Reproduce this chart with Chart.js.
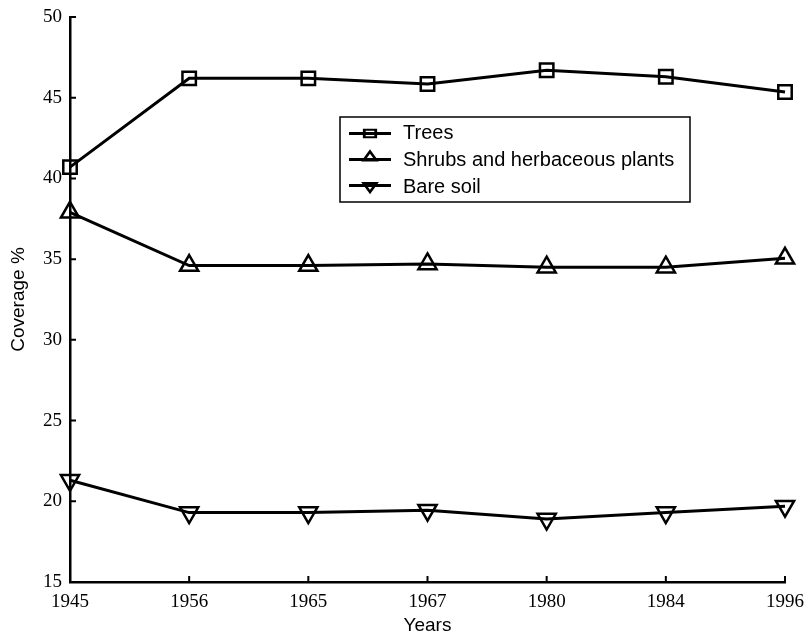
<!DOCTYPE html>
<html>
<head>
<meta charset="utf-8">
<script src="https://cdn.jsdelivr.net/npm/chart.js@4/dist/chart.umd.min.js"></script>
<style>
  html, body { margin: 0; padding: 0; background: #fff; }
  #wrap { width: 806px; height: 637px; }
</style>
</head>
<body>
<div id="wrap"><canvas id="c" width="806" height="637"></canvas></div>
<script>
// Land cover shares by survey year
const years = ['1945', '1956', '1965', '1967', '1980', '1984', '1996'];
const trees = [40.7, 46.2, 46.2, 45.85, 46.7, 46.3, 45.35];
const shrubs = [37.9, 34.6, 34.6, 34.7, 34.5, 34.5, 35.05];
const bareSoil = [21.3, 19.3, 19.3, 19.45, 18.9, 19.3, 19.7];
const seriesNames = ['Trees', 'Shrubs and herbaceous plants', 'Bare soil'];
const yTicks = [15, 20, 25, 30, 35, 40, 45, 50];

const serif = '"Liberation Serif", "Times New Roman", serif';
const sans = '"Liberation Sans", Arial, sans-serif';

function series(label, data, style, rotation, radius) {
  return {
    label, data,
    borderColor: '#000', borderWidth: 3,
    backgroundColor: 'rgba(0,0,0,0)',
    pointStyle: style, pointRotation: rotation,
    pointRadius: radius, pointBorderWidth: 2.5,
    pointBorderColor: '#000', pointBackgroundColor: 'rgba(0,0,0,0)',
    tension: 0, fill: false
  };
}

// Tick marks pointing into the plot area
const innerTicks = {
  id: 'innerTicks',
  afterDraw(chart) {
    const { ctx, scales: { x, y }, chartArea: a } = chart;
    ctx.save();
    ctx.strokeStyle = '#000';
    ctx.lineWidth = 2;
    ctx.beginPath();
    yTicks.forEach(v => {
      const p = y.getPixelForValue(v);
      ctx.moveTo(a.left, p); ctx.lineTo(a.left + 6, p);
    });
    years.forEach((_, i) => {
      const p = x.getPixelForValue(i);
      ctx.moveTo(p, a.bottom); ctx.lineTo(p, a.bottom - 6);
    });
    ctx.stroke();
    ctx.restore();
  }
};

// Boxed legend placed inside the plot; symbols are drawn slightly flattened
const legendRows = [
  { lineY: 133.5, textY: 133.5, markY: 133.5, r: 8.1, sy: 0.65 },
  { lineY: 159.5, textY: 160.5, markY: 157.5, r: 7.5, sy: 0.8 },
  { lineY: 185.5, textY: 187.5, markY: 186.0, r: 7.5, sy: 0.8 }
];
const boxLegend = {
  id: 'boxLegend',
  afterDraw(chart) {
    const ctx = chart.ctx;
    const bx = 340, by = 117, bw = 350, bh = 85;
    ctx.save();
    ctx.fillStyle = '#fff';
    ctx.fillRect(bx, by, bw, bh);
    ctx.strokeStyle = '#000';
    ctx.lineWidth = 1.5;
    ctx.strokeRect(bx, by, bw, bh);
    ctx.font = '20px ' + sans;
    ctx.textBaseline = 'middle';
    ctx.textAlign = 'left';
    chart.data.datasets.forEach((ds, i) => {
      const row = legendRows[i];
      ctx.strokeStyle = '#000';
      ctx.lineWidth = 3;
      ctx.beginPath();
      ctx.moveTo(bx + 9, row.lineY); ctx.lineTo(bx + 51, row.lineY);
      ctx.stroke();
      ctx.save();
      ctx.translate(bx + 30, row.markY);
      ctx.scale(1, row.sy);
      ctx.lineWidth = 2.8;
      ctx.fillStyle = 'rgba(0,0,0,0)';
      Chart.helpers.drawPoint(ctx, {
        pointStyle: ds.pointStyle, rotation: ds.pointRotation,
        radius: row.r, borderWidth: 2.8
      }, 0, 0);
      ctx.restore();
      ctx.fillStyle = '#000';
      ctx.fillText(ds.label, bx + 63, row.textY);
    });
    ctx.restore();
  }
};

new Chart(document.getElementById('c'), {
  type: 'line',
  data: {
    labels: years,
    datasets: [
      series(seriesNames[0], trees, 'rect', 0, 9.5),
      series(seriesNames[1], shrubs, 'triangle', 0, 10.5),
      series(seriesNames[2], bareSoil, 'triangle', 180, 10.5)
    ]
  },
  options: {
    responsive: false,
    animation: false,
    layout: { padding: { left: 0, right: 21, top: 17, bottom: 0 } },
    plugins: { legend: { display: false }, tooltip: { enabled: false } },
    scales: {
      x: {
        type: 'category',
        offset: false,
        grid: { display: false },
        border: { color: '#000', width: 2.5 },
        ticks: { color: '#000', font: { family: serif, size: 19 }, padding: 1, maxRotation: 0, autoSkip: false },
        title: { display: true, text: 'Years', color: '#000', font: { family: sans, size: 19 }, padding: 0 },
        afterFit(s) { s.height = 55; }
      },
      y: {
        min: 15, max: 50,
        grid: { display: false },
        border: { color: '#000', width: 2.5 },
        afterBuildTicks(s) { s.ticks = yTicks.map(v => ({ value: v })); },
        ticks: { color: '#000', font: { family: serif, size: 19 }, padding: 0 },
        title: { display: true, text: 'Coverage %', color: '#000', font: { family: sans, size: 19 }, padding: { top: 7, bottom: 0 } },
        afterFit(s) { s.width = 70; }
      }
    }
  },
  plugins: [innerTicks, boxLegend]
});
</script>
</body>
</html>
